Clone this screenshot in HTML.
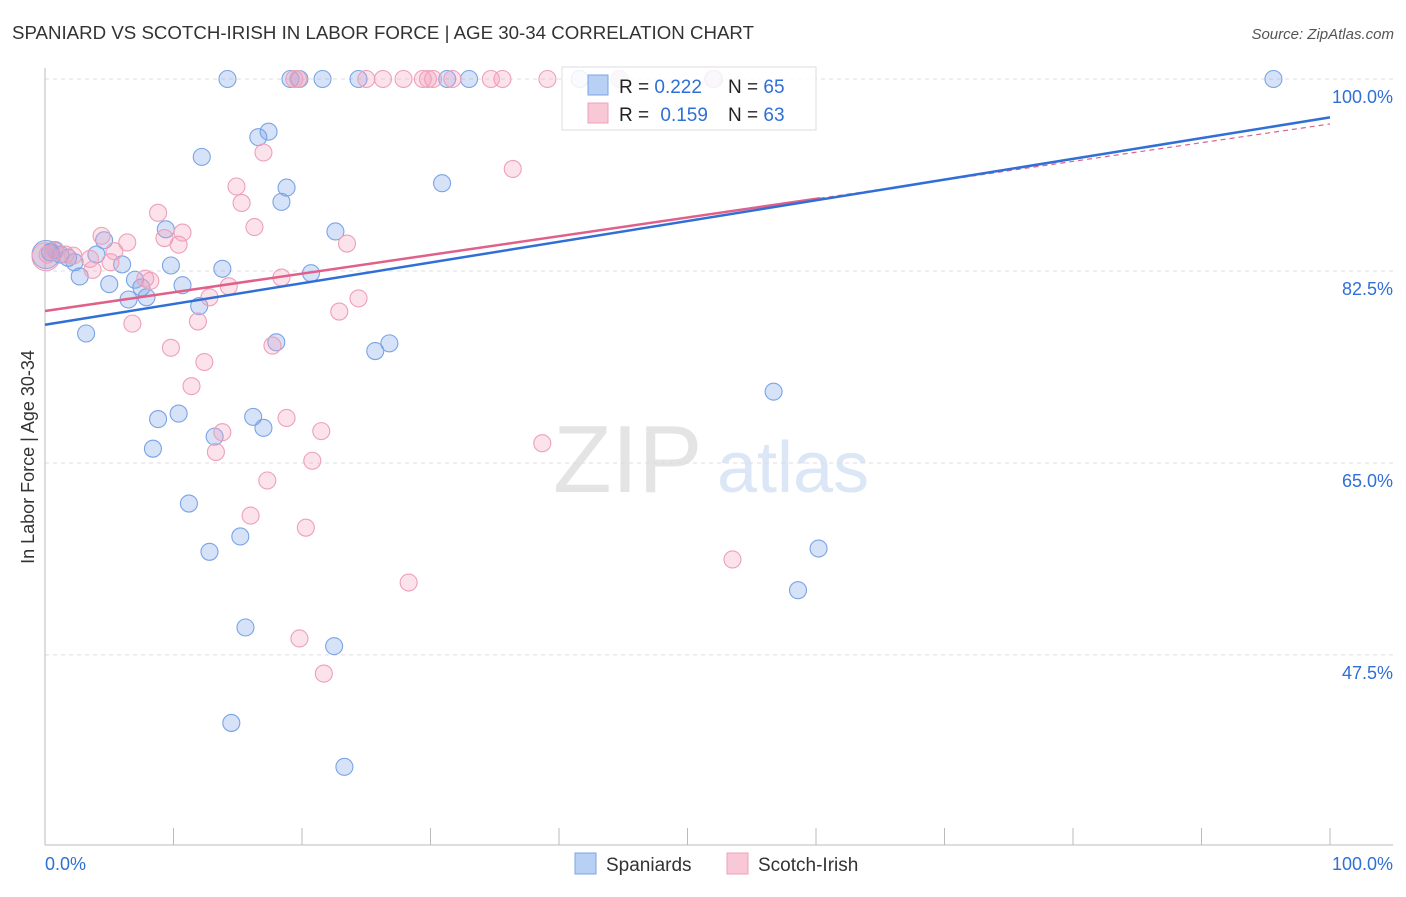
<!DOCTYPE html>
<html><head><meta charset="utf-8"><style>
body{margin:0;background:#fff;font-family:"Liberation Sans",sans-serif}
svg text{font-family:"Liberation Sans",sans-serif}
</style></head><body>
<svg id="chart" width="1406" height="892">
<text x="12" y="39" font-size="18" fill="#333" textLength="742" lengthAdjust="spacingAndGlyphs">SPANIARD VS SCOTCH-IRISH IN LABOR FORCE | AGE 30-34 CORRELATION CHART</text>
<text x="1394" y="39" font-size="15" fill="#555" font-style="italic" text-anchor="end">Source: ZipAtlas.com</text>
<text x="34" y="457" font-size="18" fill="#333" text-anchor="middle" transform="rotate(-90 34 457)">In Labor Force | Age 30-34</text>
<g>
<text x="553" y="492" font-size="96" fill="#e4e4e4" font-family="Liberation Serif,serif">ZIP</text>
<text x="717" y="492" font-size="72" fill="#dbe6f6">atlas</text>
</g>
<g id="grid"></g><g id="axes"></g><g id="pts"></g><g id="lines"></g>
<g>
<rect x="562" y="67" width="254" height="63" fill="#fff" fill-opacity="0.85" stroke="#ddd"/>
<rect x="588" y="75" width="20" height="20" fill="#b8d0f4" stroke="#7aa4e6"/>
<rect x="588" y="103" width="20" height="20" fill="#f9c8d6" stroke="#eea0b8"/>
<text x="619" y="93" font-size="19" fill="#222">R = <tspan fill="#2f6fd6">0.222</tspan></text>
<text x="728" y="93" font-size="19" fill="#222">N = <tspan fill="#2f6fd6">65</tspan></text>
<text x="619" y="121" font-size="19" fill="#222">R = <tspan fill="#2f6fd6" dx="6">0.159</tspan></text>
<text x="728" y="121" font-size="19" fill="#222">N = <tspan fill="#2f6fd6">63</tspan></text>
</g>
<g>
<rect x="575" y="853" width="21" height="21" fill="#b8d0f4" stroke="#7aa4e6"/>
<text x="606" y="871" font-size="19" fill="#333">Spaniards</text>
<rect x="727" y="853" width="21" height="21" fill="#f9c8d6" stroke="#eea0b8"/>
<text x="758" y="871" font-size="19" fill="#333">Scotch-Irish</text>
</g>
</svg>
<script>
const yTicks=[100,82.5,65,47.5];
const yTickLabels=["100.0%","82.5%","65.0%","47.5%"];
const xTickLabels=["0.0%","100.0%"];
const blueX=[14.2,19.1,19.8,21.6,24.4,31.3,33.0,41.6,44.7,52.0,95.6,16.6,17.4,12.2,18.8,18.4,30.9,22.6,9.4,4.6,6.0,9.8,13.8,20.7,10.7,5.0,7.5,7.9,6.5,12.0,2.7,7.0,4.0,1.8,0.8,0.4,1.2,2.3,3.2,18.0,26.8,25.7,56.7,10.4,8.8,16.2,17.0,13.2,8.4,11.2,15.2,12.8,60.2,58.6,15.6,22.5,14.5,23.3];
const blueY=[100,100,100,100,100,100,100,100,100,100,100,94.7,95.2,92.9,90.1,88.8,90.5,86.1,86.3,85.3,83.1,83.0,82.7,82.3,81.2,81.3,81.0,80.1,79.9,79.3,82.0,81.7,84.0,83.7,84.4,84.2,84.0,83.3,76.8,76.0,75.9,75.2,71.5,69.5,69.0,69.2,68.2,67.4,66.3,61.3,58.3,56.9,57.2,53.4,50.0,48.3,41.3,37.3];
const pinkX=[19.4,19.7,25.0,26.3,27.9,29.4,29.8,30.2,31.7,34.7,35.6,39.1,44.7,52.1,17.0,14.9,15.3,36.4,16.3,8.8,9.3,10.7,10.4,4.4,6.4,23.5,5.4,2.2,3.5,1.6,0.8,0.2,8.2,7.8,5.1,3.7,6.8,9.8,11.9,12.8,14.3,18.4,24.4,22.9,17.7,12.4,11.4,18.8,21.5,13.8,13.3,20.8,17.3,16.0,20.3,38.7,53.5,28.3,19.8,21.7];
const pinkY=[100,100,100,100,100,100,100,100,100,100,100,100,100,100,93.3,90.2,88.7,91.8,86.5,87.8,85.5,86.0,84.9,85.7,85.1,85.0,84.3,83.9,83.6,84.0,84.3,84.0,81.6,81.8,83.3,82.6,77.7,75.5,77.9,80.1,81.1,81.9,80.0,78.8,75.7,74.2,72.0,69.1,67.9,67.8,66.0,65.2,63.4,60.2,59.1,66.8,56.2,54.1,49.0,45.8];
const blueFit=[77.6,96.5];
const pinkFit=[78.85,95.9];
const X=v=>45+v*12.85, Y=v=>79+(100-v)*10.97;
const NS="http://www.w3.org/2000/svg";
function mk(tag,attrs,parent){const e=document.createElementNS(NS,tag);for(const k in attrs)e.setAttribute(k,attrs[k]);document.getElementById(parent).appendChild(e);return e;}
yTicks.forEach((t,i)=>{
 const g=mk('line',{x1:45,x2:1393,y1:Y(t),y2:Y(t),stroke:'#ddd','stroke-dasharray':'4,4'},'grid');
 
 
 const l=mk('text',{x:1393,y:Y(t)+24,'font-size':18,fill:'#2f6fd6','text-anchor':'end'},'grid');
 l.textContent=yTickLabels[i];
 
 
});
let a=mk('line',{x1:45,x2:45,y1:68,y2:845,stroke:'#bbb'},'axes');


a=mk('line',{x1:45,x2:1393,y1:845,y2:845,stroke:'#bbb'},'axes');


for(let i=0;i<=10;i++){const t=mk('line',{x1:X(i*10),x2:X(i*10),y1:828,y2:845,stroke:'#bbb'},'axes');
 
 }
[[0,'start',45],[100,'end',1393]].forEach((d,i)=>{const t=mk('text',{x:d[2],y:870,'font-size':18,fill:'#2f6fd6','text-anchor':d[1]},'axes');t.textContent=xTickLabels[i];
 
 });
[[0,84.0,'#7aa4e6','rgba(120,160,230,0.3)'],[0,83.8,'#eea0b8','rgba(240,150,180,0.3)']].forEach(d=>{const c=mk('circle',{cx:X(d[0])+1,cy:Y(d[1]),r:14,fill:d[3],stroke:d[2]},'pts');
 
 });
blueX.forEach((x,i)=>{const c=mk('circle',{cx:X(x),cy:Y(blueY[i]),r:8.5,fill:'rgba(120,160,230,0.3)',stroke:'#7aa4e6','stroke-width':1.1},'pts');
 
 });
pinkX.forEach((x,i)=>{const c=mk('circle',{cx:X(x),cy:Y(pinkY[i]),r:8.5,fill:'rgba(245,160,190,0.3)',stroke:'#eea0b8','stroke-width':1.1},'pts');
 
 });
const pm=v=>pinkFit[0]+(pinkFit[1]-pinkFit[0])*v/100;
let ln=mk('line',{x1:X(0),y1:Y(pm(0)),x2:X(60.3),y2:Y(pm(60.3)),stroke:'#e0608a','stroke-width':2.5},'lines');


ln=mk('line',{x1:X(60.3),y1:Y(pm(60.3)),x2:X(100),y2:Y(pm(100)),stroke:'#e0608a','stroke-width':1.2,'stroke-dasharray':'5,4'},'lines');


ln=mk('line',{x1:X(0),y1:Y(blueFit[0]),x2:X(100),y2:Y(blueFit[1]),stroke:'#2f6fd6','stroke-width':2.5},'lines');


</script>
</body></html>
